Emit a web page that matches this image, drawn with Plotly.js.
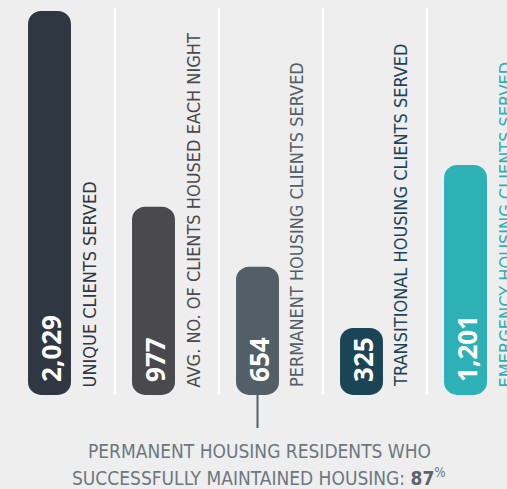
<!DOCTYPE html>
<html>
<head>
<meta charset="utf-8">
<script src="https://cdn.plot.ly/plotly-3.0.1.min.js"></script>
<style>
  html, body { margin: 0; padding: 0; background: #eeeeee; }
  #chart { width: 507px; height: 489px; }
</style>
</head>
<body>
<div id="chart"></div>
<script>
// ---- data ----
var categories = [
  "UNIQUE CLIENTS SERVED",
  "AVG. NO. OF CLIENTS HOUSED EACH NIGHT",
  "PERMANENT HOUSING CLIENTS SERVED",
  "TRANSITIONAL HOUSING CLIENTS SERVED",
  "EMERGENCY HOUSING CLIENTS SERVED"
];
var values = [2029, 977, 654, 325, 1201];
var retentionLine1 = "PERMANENT HOUSING RESIDENTS WHO";
var retentionLine2 = "SUCCESSFULLY MAINTAINED HOUSING:";
var retentionRate = 87;

// ---- styles ----
var colors = ["#2f3742", "#4a4a4c", "#535f67", "#1b4557", "#2db1b7"];
var labelFont = "DejaVu Sans Condensed, sans-serif";
var valueFont = "Open Sans, DejaVu Sans, sans-serif";
var bottomPad = 35; // rounded foot below zero (style)

var idx = values.map(function (v, i) { return i; });
var fmt = function (v) { return v.toLocaleString("en-US"); };

var bars = {
  type: "bar", x: idx,
  base: values.map(function () { return -bottomPad; }),
  y: values.map(function (v) { return v + bottomPad; }),
  width: 0.413,
  marker: { color: colors, line: { width: 0 } },
  hoverinfo: "skip", showlegend: false
};

var annotations = [];
categories.forEach(function (c, i) {
  annotations.push({
    x: i, y: 0, xref: "x", yref: "y",
    text: c, textangle: -90, showarrow: false,
    xanchor: "center", yanchor: "bottom", xshift: 39.5, yshift: -1,
    font: { family: labelFont, size: 18, color: colors[i] }
  });
  annotations.push({
    x: i, y: 0, xref: "x", yref: "y",
    text: "<b>" + fmt(values[i]) + "</b>", textangle: -90, showarrow: false,
    xanchor: "center", yanchor: "bottom", xshift: 1.5, yshift: 4,
    font: { family: valueFont, size: 26, color: "#ffffff" }
  });
});
annotations.push({
  x: 2, y: 1 - 450 / 489, xref: "x", yref: "paper",
  text: retentionLine1,
  showarrow: false, xanchor: "center", yanchor: "middle", xshift: 1.5, yshift: -1,
  font: { family: labelFont, size: 19, color: "#6c7880" }
});
annotations.push({
  x: 2, y: 1 - 478 / 489, xref: "x", yref: "paper",
  text: retentionLine2 + " <b><span style='color:#5a646c'>" + retentionRate + "</span></b><sup>%</sup>",
  showarrow: false, xanchor: "center", yanchor: "middle", xshift: 1.5, yshift: 1,
  font: { family: labelFont, size: 19, color: "#6c7880" }
});

var shapes = [];
for (var s = 0; s < values.length - 1; s++) {
  shapes.push({
    type: "line", xref: "x", yref: "paper",
    x0: s + 0.63, x1: s + 0.63, y0: 1 - 8 / 489, y1: 1 - 395 / 489,
    line: { color: "#ffffff", width: 2.5 }
  });
}
shapes.push({
  type: "line", xref: "x", yref: "paper",
  x0: 2, x1: 2, y0: 1 - 395 / 489, y1: 1 - 428 / 489,
  line: { color: colors[2], width: 2 }
});

var layout = {
  width: 507, height: 489,
  margin: { l: 0, r: 0, t: 0, b: 0 },
  paper_bgcolor: "#eeeeee", plot_bgcolor: "#eeeeee",
  barmode: "overlay", barcornerradius: 13,
  xaxis: { range: [-0.476, 4.399], visible: false, fixedrange: true },
  yaxis: { range: [-540.9, 2088.2], visible: false, fixedrange: true },
  shapes: shapes, annotations: annotations,
  showlegend: false
};

Plotly.newPlot("chart", [bars], layout, { displayModeBar: false, staticPlot: true });
</script>
</body>
</html>
